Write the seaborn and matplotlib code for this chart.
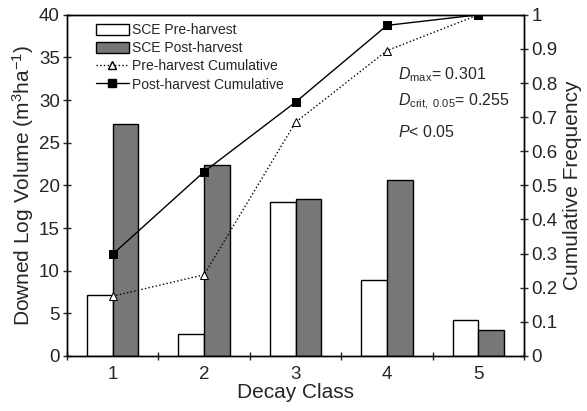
import numpy as np
import pandas as pd
import matplotlib
matplotlib.use("Agg")
import matplotlib.pyplot as plt
import seaborn as sns
from matplotlib.patches import Patch
from matplotlib.lines import Line2D

# data
decay_class = ["1", "2", "3", "4", "5"]
pre_volume = [7.2, 2.6, 18.1, 8.9, 4.2]
post_volume = [27.2, 22.4, 18.4, 20.6, 3.05]
pre_cum = [0.175, 0.238, 0.685, 0.895, 1.0]
post_cum = [0.298, 0.540, 0.744, 0.969, 1.0]
left_ticks = [0, 5, 10, 15, 20, 25, 30, 35, 40]
right_ticks = [0, 0.1, 0.2, 0.3, 0.4, 0.5, 0.6, 0.7, 0.8, 0.9, 1.0]
right_labels = ["0", "0.1", "0.2", "0.3", "0.4", "0.5", "0.6", "0.7", "0.8", "0.9", "1"]

sns.set_style("ticks")
plt.rcParams["font.family"] = ["Liberation Sans", "DejaVu Sans"]
plt.rcParams["mathtext.fontset"] = "custom"
plt.rcParams["mathtext.rm"] = "Liberation Sans"
plt.rcParams["mathtext.it"] = "Liberation Sans:italic"

bars = pd.DataFrame({
    "cls": decay_class * 2,
    "vol": pre_volume + post_volume,
    "grp": ["SCE Pre-harvest"] * 5 + ["SCE Post-harvest"] * 5,
})

fig = plt.figure(figsize=(5.87, 4.11), dpi=100)
ax = fig.add_axes([0.114, 0.134, 0.779, 0.830])

sns.barplot(data=bars, x="cls", y="vol", hue="grp", ax=ax,
            palette=["white", "#777777"], edgecolor="black", linewidth=1,
            width=0.56, gap=0, legend=False)

ax.set_xlim(-0.5, 4.5)
ax.set_ylim(0, 40)
ax.set_yticks(left_ticks)
ax.set_xticks(range(5))
ax.set_xticklabels(decay_class)
ax.set_xticks(np.arange(-0.5, 5, 1), minor=True)
ax.tick_params(axis="x", which="major", length=0, labelsize=13.5, pad=7)
ax.tick_params(axis="x", which="minor", direction="inout", length=6, width=1)
ax.tick_params(axis="y", direction="inout", length=6, width=1, labelsize=13.5, pad=2)
ax.set_xlabel("Decay Class", fontsize=15, labelpad=0)
ax.set_ylabel("Downed Log Volume (m$^3$ha$^{-1}$)", fontsize=15, labelpad=2)
for s in ax.spines.values():
    s.set_color("black")
    s.set_linewidth(1)

ax2 = ax.twinx()
xs = np.arange(5)
sns.lineplot(x=xs, y=pre_cum, ax=ax2, color="black", linestyle=":", linewidth=1,
             marker="^", markersize=6, markerfacecolor="white", markeredgecolor="black")
sns.lineplot(x=xs, y=post_cum, ax=ax2, color="black", linestyle="-", linewidth=1,
             marker="s", markersize=6, markerfacecolor="black", markeredgecolor="black")
ax2.set_ylim(0, 1)
ax2.set_yticks(right_ticks)
ax2.set_yticklabels(right_labels)
ax2.tick_params(axis="y", direction="inout", length=6, width=1, labelsize=13.5, pad=2)
ax2.set_ylabel("Cumulative Frequency", fontsize=15, labelpad=4)
for s in ax2.spines.values():
    s.set_color("black")
    s.set_linewidth(1)

handles = [
    Patch(facecolor="white", edgecolor="black", label="SCE Pre-harvest"),
    Patch(facecolor="#777777", edgecolor="black", label="SCE Post-harvest"),
    Line2D([], [], color="black", linestyle=":", linewidth=1, marker="^", markersize=6,
           markerfacecolor="white", label="Pre-harvest Cumulative"),
    Line2D([], [], color="black", linestyle="-", linewidth=1, marker="s", markersize=6,
           markerfacecolor="black", label="Post-harvest Cumulative"),
]
ax2.legend(handles=handles, loc="upper left", frameon=False, fontsize=10,
           handlelength=2.4, handleheight=0.9, handletextpad=0.2, labelspacing=0.3,
           borderaxespad=0.2, bbox_to_anchor=(0.045, 1.0))

ax2.text(0.724, 0.824, r"$D_{\rm max}$= 0.301", transform=ax2.transAxes,
         fontsize=11.5, va="center")
ax2.text(0.724, 0.745, r"$D_{\rm crit,\ 0.05}$= 0.255", transform=ax2.transAxes,
         fontsize=11.5, va="center")
ax2.text(0.724, 0.657, r"$P$< 0.05", transform=ax2.transAxes, fontsize=11.5, va="center")

fig.savefig("out.png", dpi=100)
